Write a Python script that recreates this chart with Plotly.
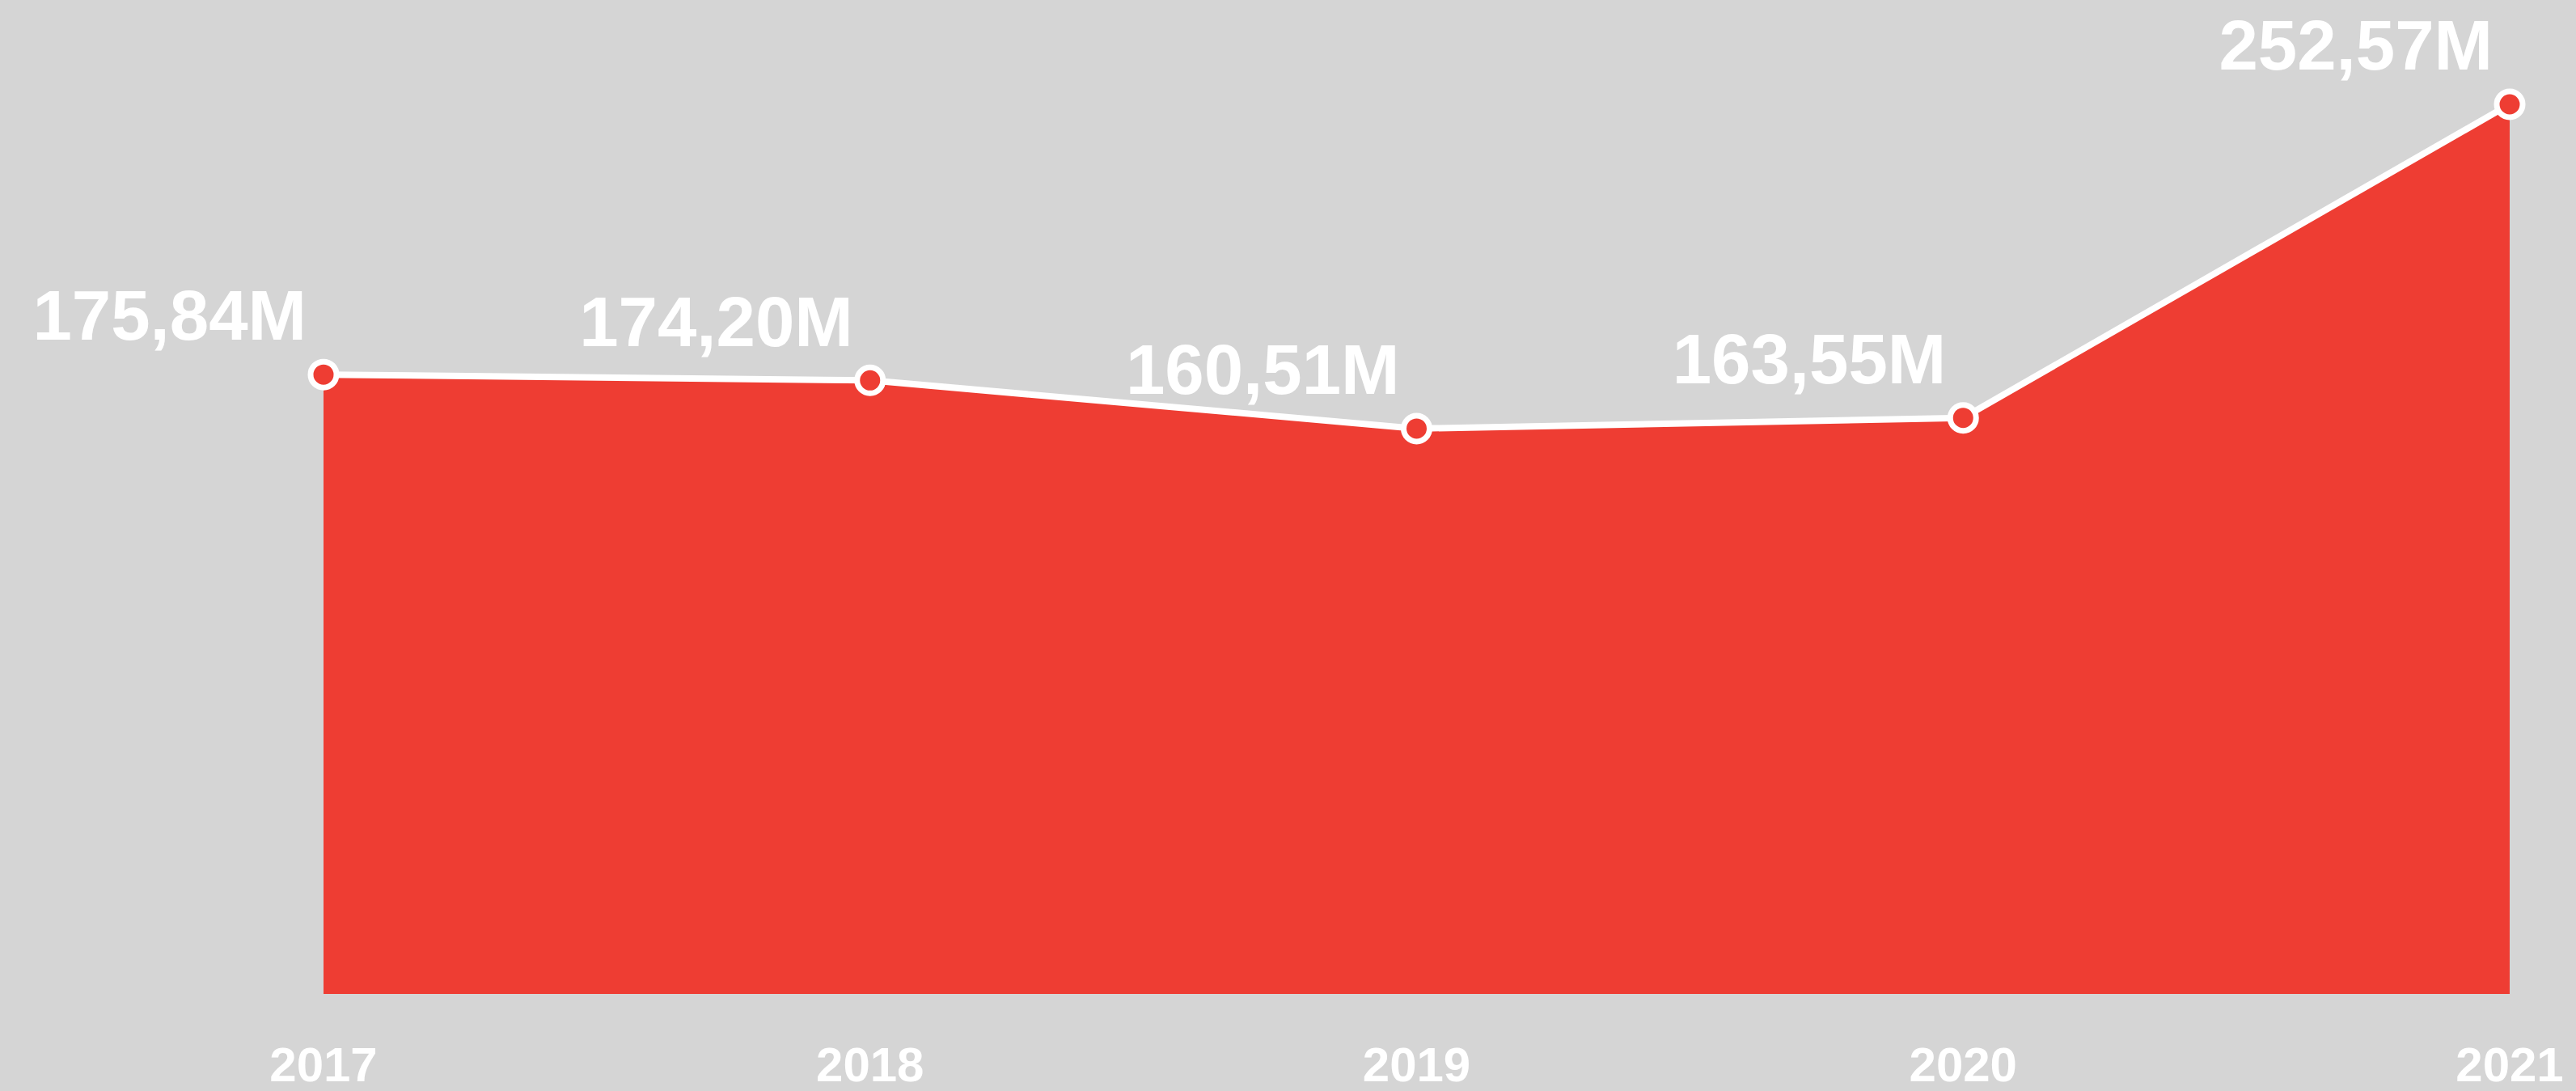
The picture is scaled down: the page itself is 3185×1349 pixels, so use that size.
import plotly.graph_objects as go

years = [2017, 2018, 2019, 2020, 2021]
tick_labels = ["2017", "2018", "2019", "2020", "2021"]
revenue_m = [175.84, 174.20, 160.51, 163.55, 252.57]
value_labels = ["175,84M", "174,20M", "160,51M", "163,55M", "252,57M"]

BG = "#d5d5d5"
RED = "#ee3d33"
FONT = "Liberation Sans"

fig = go.Figure()
fig.add_trace(go.Scatter(
    x=years,
    y=revenue_m,
    mode="lines+markers+text",
    fill="tozeroy",
    fillcolor=RED,
    line=dict(color="white", width=8),
    marker=dict(size=32, color=RED, line=dict(color="white", width=7)),
    text=value_labels,
    textposition="top left",
    textfont=dict(family=FONT, size=87, color="white", weight=700),
    cliponaxis=False,
    hoverinfo="skip",
    showlegend=False,
))

fig.update_layout(
    width=3185,
    height=1349,
    margin=dict(l=400, r=82, t=40, b=120, autoexpand=False),
    paper_bgcolor=BG,
    plot_bgcolor=BG,
    xaxis=dict(
        range=[2017, 2021],
        tickvals=years,
        ticktext=tick_labels,
        showgrid=False,
        zeroline=False,
        showline=False,
        ticks="outside",
        ticklen=35,
        tickcolor="rgba(0,0,0,0)",
        tickfont=dict(family=FONT, size=60, color="white", weight=700),
        automargin=False,
        fixedrange=True,
    ),
    yaxis=dict(
        range=[0, 273.0],
        showgrid=False,
        zeroline=False,
        showline=False,
        showticklabels=False,
        automargin=False,
        fixedrange=True,
    ),
)

fig.write_html(
    "out.html",
    config={"displayModeBar": False},
    post_script="document.body.style.margin='0';document.body.style.background='#d5d5d5';",
)
